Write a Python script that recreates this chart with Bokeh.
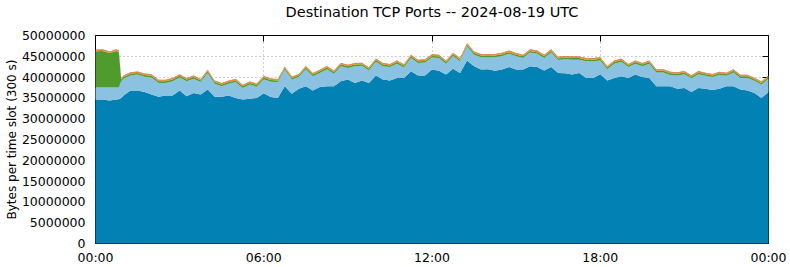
from bokeh.plotting import figure
from bokeh.models import (ColumnDataSource, FixedTicker, BasicTickFormatter, LinearAxis, Range1d)
from bokeh.embed import file_html
from bokeh.resources import INLINE

# Time of each sample, in hours after 00:00 UTC (15-minute samples, plus 00:50 / 00:55)
hours = [0.0, 0.25, 0.5, 0.75, 0.8333, 0.9167] + [1.0 + i * 0.25 for i in range(93)]

# Values, in millions of bytes per 300 s slot
dark_blue = [34.6, 34.6, 34.4, 34.6, 34.7, 35.0, 35.6, 36.8, 36.8, 36.4, 35.8, 35.3,
             35.6, 35.6, 36.8, 35.4, 36.2, 35.8, 37.0, 35.3, 35.3, 35.6,
             35.0, 34.6, 34.8, 35.0, 36.1, 35.2, 35.0, 37.8, 36.0, 37.2,
             37.8, 36.8, 37.6, 37.8, 37.8, 39.0, 39.4, 38.6, 39.2, 38.6,
             40.4, 39.4, 39.2, 39.8, 39.8, 41.4, 40.4, 40.4, 41.8, 41.5,
             40.6, 42.0, 41.0, 44.0, 42.6, 41.8, 41.9, 41.5, 41.8, 42.4,
             41.8, 41.8, 42.6, 42.4, 41.6, 42.4, 41.0, 40.9, 40.6, 41.0,
             39.8, 39.8, 40.7, 39.2, 39.8, 40.2, 39.8, 40.6, 40.0, 39.8,
             37.8, 37.8, 37.8, 37.2, 37.4, 36.4, 37.4, 37.2, 36.9, 37.2,
             37.8, 37.8, 37.0, 36.8, 36.2, 35.0, 36.4]
light_blue = [2.9, 2.9, 3.1, 2.9, 2.8, 4.0, 4.0, 3.6, 3.8, 3.7, 4.1, 3.3,
              3.0, 3.4, 3.1, 3.6, 3.4, 3.0, 4.0, 3.1, 2.5, 2.8,
              3.8, 2.8, 3.4, 2.7, 3.4, 3.7, 3.8, 4.0, 3.4, 2.8,
              4.1, 3.4, 3.4, 4.1, 3.0, 3.6, 2.8, 4.0, 3.5, 3.0,
              3.3, 3.2, 3.2, 3.4, 2.5, 3.2, 3.0, 3.1, 2.9, 3.1,
              2.6, 3.1, 2.8, 3.4, 2.8, 3.0, 2.8, 3.3, 3.3, 3.2,
              3.2, 2.8, 3.3, 3.2, 3.0, 3.5, 3.1, 3.4, 3.6, 3.2,
              4.0, 4.0, 3.3, 2.7, 3.4, 3.5, 2.6, 2.6, 2.6, 3.4,
              3.3, 3.3, 2.7, 3.2, 3.3, 3.3, 3.3, 3.1, 3.1, 3.3,
              2.5, 3.3, 2.8, 3.0, 2.9, 3.2, 3.2]
green = [8.7, 8.8, 8.3, 8.8, 8.5, 0.4, 0.4, 0.4, 0.4, 0.4, 0.4, 0.4,
         0.4, 0.4, 0.4, 0.4, 0.4, 0.4, 0.4, 0.4, 0.4, 0.4,
         0.4, 0.4, 0.4, 0.4, 0.4, 0.4, 0.4, 0.4, 0.4, 0.4,
         0.4, 0.4, 0.4, 0.4, 0.4, 0.4, 0.4, 0.4, 0.4, 0.4,
         0.4, 0.4, 0.4, 0.4, 0.4, 0.4, 0.4, 0.4, 0.4, 0.4,
         0.4, 0.4, 0.4, 0.4, 0.4, 0.4, 0.4, 0.4, 0.4, 0.4,
         0.4, 0.4, 0.4, 0.4, 0.4, 0.4, 0.4, 0.4, 0.4, 0.4,
         0.4, 0.4, 0.4, 0.4, 0.4, 0.4, 0.4, 0.4, 0.4, 0.4,
         0.4, 0.4, 0.4, 0.4, 0.4, 0.4, 0.4, 0.4, 0.4, 0.4,
         0.4, 0.4, 0.4, 0.4, 0.4, 0.4, 0.4]
orange = [0.25] * 99
red = [0.12] * 99

series_names = ["dark_blue", "light_blue", "green", "orange", "red"]
series_colors = ["#0282b4", "#8bc2e1", "#4f9b2d", "#e39022", "#c4421c"]

title_text = "Destination TCP Ports -- 2024-08-19 UTC"
x_ticks = [0, 6, 12, 18, 24]
x_tick_labels = ["00:00", "06:00", "12:00", "18:00", "00:00"]
y_ticks = [0, 5000000, 10000000, 15000000, 20000000, 25000000,
           30000000, 35000000, 40000000, 45000000, 50000000]

MB = 1_000_000
src = ColumnDataSource(dict(
    hours=hours,
    dark_blue=[v * MB for v in dark_blue],
    light_blue=[v * MB for v in light_blue],
    green=[v * MB for v in green],
    orange=[v * MB for v in orange],
    red=[v * MB for v in red],
))

FONT = "DejaVu Sans"

p = figure(width=790, height=267, output_backend="svg", toolbar_location=None,
           x_range=Range1d(0, 24), y_range=Range1d(0, 50000000),
           min_border_left=95, min_border_right=22, min_border_top=34,
           min_border_bottom=24)

rs = p.varea_stack(stackers=series_names, x="hours", color=series_colors, source=src)
for r in rs:
    r.level = "annotation"

p.outline_line_color = "black"
p.outline_line_alpha = 1.0
p.outline_line_width = 1
p.background_fill_color = "white"
p.border_fill_color = "white"

# axes
xa = p.xaxis[0]
xa.ticker = FixedTicker(ticks=x_ticks)
xa.major_label_overrides = {t: l for t, l in zip(x_ticks, x_tick_labels)}
ya = p.yaxis[0]
ya.ticker = FixedTicker(ticks=y_ticks)
ya.formatter = BasicTickFormatter(use_scientific=False)
ya.axis_label = "Bytes per time slot (300 s)"
ya.axis_label_text_font_style = "normal"
ya.axis_label_text_font = FONT
ya.axis_label_text_font_size = "12px"
ya.axis_label_text_color = "black"
ya.axis_label_standoff = 0
for ax in (xa, ya):
    ax.major_label_text_font = FONT
    ax.major_label_text_font_size = "12.5px"
    ax.major_label_text_color = "black"
    ax.minor_tick_line_color = None
    ax.major_tick_in = 0
    ax.major_tick_out = 0
    ax.axis_line_color = "black"
xa.major_label_standoff = 6
ya.major_label_standoff = 10

# top axis: inward ticks at 06/12/18 and the chart title as its label
top_ax = LinearAxis(ticker=FixedTicker(ticks=[6, 12, 18]))
top_ax.major_label_overrides = {6: "", 12: "", 18: ""}
top_ax.axis_label = title_text
top_ax.axis_label_text_font = FONT
top_ax.axis_label_text_font_size = "14.5px"
top_ax.axis_label_text_font_style = "normal"
top_ax.axis_label_text_color = "black"
top_ax.axis_label_standoff = 16
right_ax = LinearAxis(ticker=FixedTicker(ticks=y_ticks))
right_ax.major_label_overrides = {t: "" for t in y_ticks}
for ax in (top_ax, right_ax):
    ax.major_label_text_font_size = "1px"
    ax.major_label_standoff = 0
    ax.major_tick_in = 6
    ax.major_tick_out = 0
    ax.minor_tick_line_color = None
    ax.axis_line_color = None
    ax.major_tick_line_color = "black"
p.add_layout(top_ax, "above")
p.add_layout(right_ax, "right")

# grid
for g in (p.xgrid[0], p.ygrid[0]):
    g.grid_line_color = "#a0a0a0"
    g.grid_line_dash = "1 3"
    g.grid_line_width = 1
p.xgrid[0].ticker = FixedTicker(ticks=[6, 12, 18])
p.ygrid[0].ticker = FixedTicker(ticks=y_ticks)

open("out.html", "w").write(file_html(p, INLINE))
